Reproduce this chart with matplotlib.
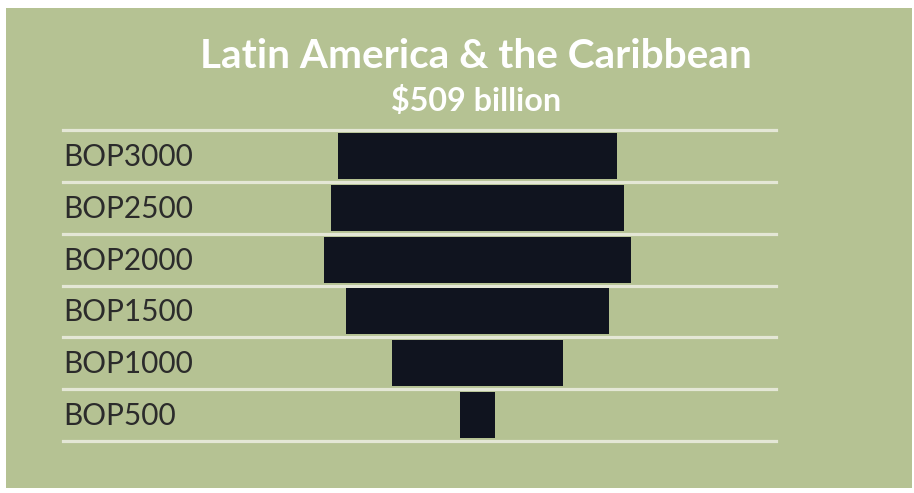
import matplotlib
matplotlib.use("Agg")
import matplotlib.pyplot as plt
from matplotlib.patches import Rectangle

# Remittance-style funnel: value per band, in $ billions
categories = ["BOP3000", "BOP2500", "BOP2000", "BOP1500", "BOP1000", "BOP500"]
values = [105.5, 110.5, 116.0, 99.5, 64.5, 13.0]
title = "Latin America & the Caribbean"
subtitle = "$509 billion"

W, H = 914, 493
DPI = 100
GREEN = "#b5c293"
BAR = "#10141f"
RULE = "#e4e7d6"
LABEL = "#2b2b2b"
FONT = "Lato"

fig = plt.figure(figsize=(W / DPI, H / DPI), dpi=DPI, facecolor="white")

# green panel
fig.patches.append(Rectangle((6 / W, 1 - 488 / H), (912 - 6) / W, (488 - 8) / H,
                             transform=fig.transFigure, facecolor=GREEN,
                             edgecolor="none", zorder=-5))

ax_left, ax_right = 63, 776
ax_top, ax_bottom = 130, 441
ax = fig.add_axes([ax_left / W, 1 - ax_bottom / H,
                   (ax_right - ax_left) / W, (ax_bottom - ax_top) / H])
ax.set_zorder(2)
ax.set_facecolor("none")
for s in ax.spines.values():
    s.set_visible(False)
ax.set_xticks([])
ax.set_yticks([])

n = len(categories)
ypos = [n - 1 - i for i in range(n)]
ax.set_ylim(-0.5, n - 0.5)
ax.set_xlim(-156.6, 112.8)

for k in range(n + 1):
    ax.axhline(k - 0.5, color=RULE, lw=2.3, clip_on=False, zorder=1)

ax.barh(ypos, values, left=[-v / 2 for v in values], height=0.89,
        color=BAR, edgecolor="none", zorder=2)


def fit_text(t, width_px):
    """Scale a text's font size so its rendered width equals width_px."""
    r = fig.canvas.get_renderer()
    w = t.get_window_extent(r).width
    t.set_fontsize(t.get_fontsize() * width_px / w)


for y, c in zip(ypos, categories):
    t = ax.text(0.0, y - 0.02, c, transform=ax.get_yaxis_transform(), ha="left",
                va="center", fontsize=22, color=LABEL, family=FONT)
    if c == "BOP3000":
        fit_text(t, 129)
        label_size = t.get_fontsize()
for t in ax.texts:
    t.set_fontsize(label_size)

cx = 476 / W
tt = fig.text(cx, 1 - 57 / H, title, ha="center", va="center", fontsize=29,
              fontweight="bold", color="white", family=FONT)
fit_text(tt, 552)
st = fig.text(cx, 1 - 101 / H, subtitle, ha="center", va="center", fontsize=19,
              fontweight="bold", color="white", family=FONT)
fit_text(st, 170)

fig.savefig("out.png", dpi=DPI, facecolor="white")
